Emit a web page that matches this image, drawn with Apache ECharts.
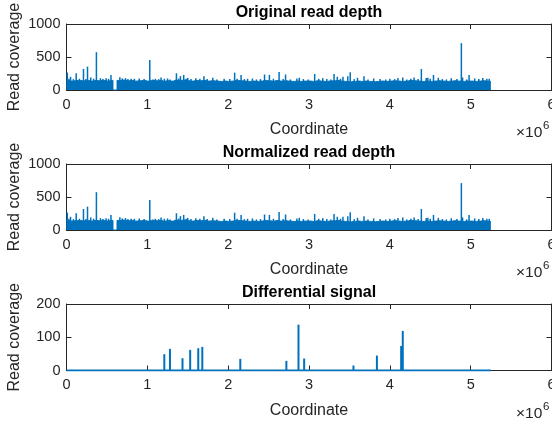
<!DOCTYPE html>
<html>
<head>
<meta charset="utf-8">
<script src="https://cdn.jsdelivr.net/npm/echarts@6/dist/echarts.min.js"></script>
<style>html,body{margin:0;padding:0;background:#fff}#c{width:552px;height:423px}</style>
</head>
<body>
<div id="c"></div>
<script>
// ---------------- DATA ----------------
const panelTitles = ['Original read depth', 'Normalized read depth', 'Differential signal'];
const coordTicks = [0, 1, 2, 3, 4, 5, 6];          // ×10^6
const depthTicks = [0, 500, 1000];
const diffTicks = [0, 100, 200];
const binStepBp = 50000;                             // bin width of the band values
// typical (upper envelope) read depth per 50 kb bin, 0 .. 5.25 Mb
const originalTop = [
  145,135,140,145,140,145,135,145,140,145, 135,145,  0,145,150,140,145,135,140,145,
  135,145,140,145,135,140,135,150,145,150, 140,135,145,140,145,135,140,135,130,135,
  130,135,145,140,135,130,135,130,135,145, 140,135,145,135,140,135,130,135,130,135,
  135,130,140,135,130,135,140,145,135,130, 125,130,135,130,135,130,125,130,135,130,
  135,140,135,130,135,145,140,135,130,135, 130,135,140,135,130,135,140,135,130,135,
  135,130,135,140,135,130
];
// isolated high-coverage spikes: [coordinate (bp), depth]
const originalSpikes = [
  [10000,265],[50000,200],[120000,254],[210000,319],[260000,354],[300000,190],[370000,573],
  [420000,180],[490000,178],[550000,228],[660000,193],[730000,180],[800000,170],[900000,175],
  [1030000,456],[1100000,170],[1170000,190],[1250000,175],[1360000,254],[1410000,210],
  [1450000,228],[1500000,180],[1600000,178],[1700000,210],[1810000,185],[1950000,170],
  [2080000,263],[2160000,228],[2240000,170],[2300000,175],[2450000,235],[2510000,228],
  [2630000,274],[2710000,235],[2850000,175],[2880000,185],[3070000,243],[3170000,180],
  [3310000,243],[3350000,200],[3420000,200],[3480000,210],[3510000,269],[3600000,185],
  [3680000,210],[3800000,175],[4000000,170],[4100000,180],[4160000,190],[4300000,190],
  [4390000,319],[4450000,180],[4470000,185],[4540000,228],[4600000,185],[4760000,178],
  [4885000,710],[4900000,190],[4980000,228],[5050000,175],[5150000,180],[5230000,170]
];
// smaller up-ticks along the top of the band: [coordinate (bp), depth]
const originalMinor = [
  [30000,170],[85000,165],[160000,170],[240000,165],[335000,170],[450000,165],[520000,170],
  [690000,175],[760000,165],[840000,170],[960000,165],[1070000,160],[1140000,165],[1210000,170],
  [1280000,160],[1390000,175],[1480000,170],[1540000,165],[1650000,170],[1740000,165],
  [1860000,160],[2020000,165],[2110000,170],[2200000,165],[2350000,160],[2400000,165],
  [2560000,170],[2680000,165],[2770000,160],[2930000,165],[2990000,160],[3120000,170],
  [3220000,165],[3270000,160],[3390000,170],[3560000,165],[3730000,160],[3880000,165],
  [3950000,160],[4060000,165],[4210000,160],[4260000,170],[4350000,165],[4500000,170],
  [4650000,165],[4700000,160],[4830000,165],[4950000,160],[5100000,165],[5200000,170]
];
// normalized depth reads identical to the original depth in the picture
const normalizedTop = originalTop;
const normalizedSpikes = originalSpikes;
const normalizedMinor = originalMinor;
// differential signal
const diffSpanBp = [0, 5250000];                    // zero baseline extent
const diffSpikes = [
  [1210000,49],[1280000,65],[1435000,37],[1530000,62],[1630000,67],[1680000,71],
  [2150000,35],[2720000,29],[2870000,138],[2940000,36],[3550000,15],[3840000,45],
  [4140000,74],[4160000,119]
];

// ---------------- CHART ----------------
const BLUE = '#0072BD';
const AX = '#262626';
const FONT = 'Liberation Sans, Arial, Helvetica, sans-serif';
const chart = echarts.init(document.getElementById('c'), null, {renderer: 'canvas'});

const gridTops = [24, 164, 304];
const gridH = [66, 66, 66.5];
const grids = gridTops.map((t, i) => ({
  left: 66.5, width: 485, top: t, height: gridH[i],
  containLabel: false, outerBoundsMode: 'none'
}));

const xAxes = [], yAxes = [];
const yTicksFor = [depthTicks, depthTicks, diffTicks];
for (let i = 0; i < 3; i++) {
  const xt = coordTicks;
  const common = {
    type: 'value', gridIndex: i,
    min: xt[0] * 1e6, max: xt[xt.length - 1] * 1e6, interval: (xt[1] - xt[0]) * 1e6,
    splitLine: {show: false},
    axisLine: {show: true, onZero: false, lineStyle: {color: AX, width: 1}},
    axisTick: {show: true, inside: true, length: 5, lineStyle: {color: AX, width: 1}}
  };
  xAxes.push(Object.assign({}, common, {
    position: 'bottom',
    axisLabel: {color: AX, fontSize: 14.5, fontFamily: FONT, margin: 7, formatter: v => String(v / 1e6)},
    name: 'Coordinate', nameLocation: 'middle', nameGap: 32, nameMoveOverlap: false,
    nameTextStyle: {color: AX, fontSize: 16, fontFamily: FONT}
  }));
  xAxes.push(Object.assign({}, common, {position: 'top', axisLabel: {show: false}}));

  const yt = yTicksFor[i];
  const ycommon = {
    type: 'value', gridIndex: i,
    min: yt[0], max: yt[yt.length - 1], interval: yt[1] - yt[0],
    splitLine: {show: false},
    axisLine: {show: true, onZero: false, lineStyle: {color: AX, width: 1}},
    axisTick: {show: true, inside: true, length: 5, lineStyle: {color: AX, width: 1}}
  };
  yAxes.push(Object.assign({}, ycommon, {
    position: 'left',
    axisLabel: {color: AX, fontSize: 14.5, fontFamily: FONT, margin: 6, formatter: v => String(v)},
    name: 'Read coverage', nameLocation: 'middle', nameRotate: 90, nameGap: 44, nameMoveOverlap: false,
    nameTextStyle: {color: AX, fontSize: 16, fontFamily: FONT}
  }));
  yAxes.push(Object.assign({}, ycommon, {position: 'right', axisLabel: {show: false}}));
}

function bandData(top) {
  return top.map((v, k) => [k * binStepBp, v]);
}

const series = [];
[[originalTop, originalSpikes, originalMinor], [normalizedTop, normalizedSpikes, normalizedMinor]].forEach(([top, spikes, minor], i) => {
  series.push({
    type: 'line', xAxisIndex: 2 * i, yAxisIndex: 2 * i, data: bandData(top),
    step: 'middle', symbol: 'none', silent: true, animation: false,
    lineStyle: {color: BLUE, width: 1}, areaStyle: {color: BLUE, opacity: 1}
  });
  series.push({
    type: 'bar', xAxisIndex: 2 * i, yAxisIndex: 2 * i, data: spikes.concat(minor),
    barWidth: 1.5, barGap: '-100%', itemStyle: {color: BLUE}, silent: true, animation: false
  });
});
series.push({
  type: 'line', xAxisIndex: 4, yAxisIndex: 4,
  data: diffSpanBp.map(x => [x, 0]), symbol: 'none', silent: true, animation: false,
  lineStyle: {color: BLUE, width: 2}
});
series.push({
  type: 'bar', xAxisIndex: 4, yAxisIndex: 4, data: diffSpikes,
  barWidth: 2, itemStyle: {color: BLUE}, silent: true, animation: false
});

const titles = panelTitles.map((t, i) => ({
  text: t, left: 309, textAlign: 'center', top: gridTops[i] - 19, padding: 0,
  textStyle: {fontSize: 16, fontWeight: 'bold', color: '#000', fontFamily: FONT}
}));

const graphics = [];
gridTops.forEach((t, i) => {
  const base = t + gridH[i];
  graphics.push({type: 'text', left: 516, top: base + 35,
    style: {text: '×10', fontSize: 15.5, fontFamily: FONT, fill: AX}});
  graphics.push({type: 'text', left: 543, top: base + 30,
    style: {text: '6', fontSize: 11.5, fontFamily: FONT, fill: AX}});
});

chart.setOption({
  animation: false,
  backgroundColor: '#fff',
  title: titles,
  grid: grids,
  xAxis: xAxes,
  yAxis: yAxes,
  series: series,
  graphic: graphics
});
</script>
</body>
</html>
